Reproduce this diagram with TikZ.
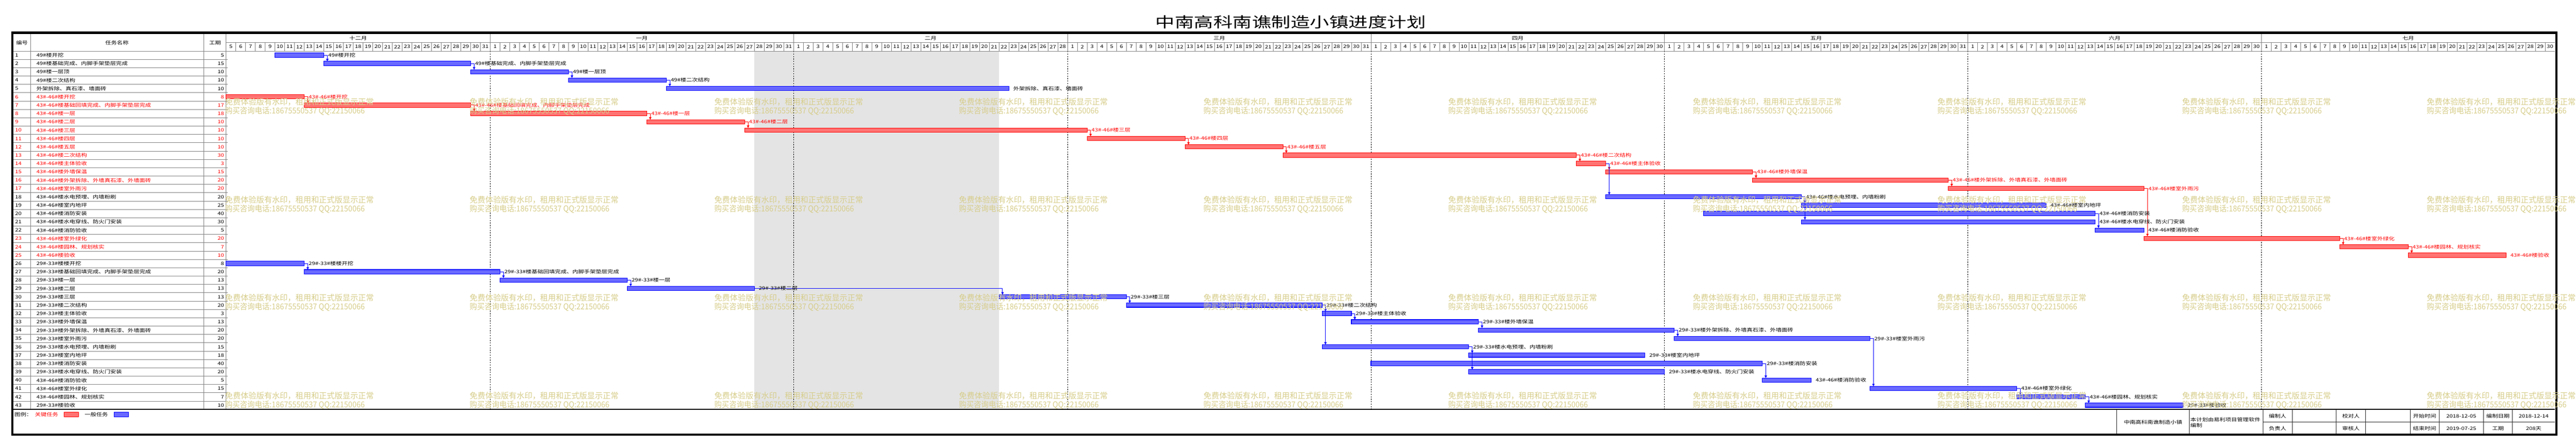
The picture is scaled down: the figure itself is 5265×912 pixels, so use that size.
\documentclass[tikz,border=0pt]{standalone}
\usepackage{fontspec}
\setmainfont{Noto Sans CJK SC}[FakeStretch=1.24]
\newfontfamily\wmfont{Noto Sans CJK SC}[FakeStretch=0.97]
\newfontfamily\wmfontb{Noto Sans CJK SC}[FakeStretch=0.92]
\newfontfamily\ttlfont{Noto Sans CJK SC}[FakeStretch=1.34]
\usetikzlibrary{arrows.meta}
\definecolor{cK}{RGB}{0,0,255}
\definecolor{cR}{RGB}{255,0,0}
\definecolor{fK}{RGB}{105,105,255}
\definecolor{fR}{RGB}{255,115,115}
\definecolor{tK}{RGB}{0,0,0}
\definecolor{tR}{RGB}{255,0,0}
\definecolor{gridc}{RGB}{128,128,128}
\definecolor{wmc}{RGB}{215,205,138}
\definecolor{shadec}{RGB}{228,228,228}
\begin{document}
\begin{tikzpicture}[x=1pt,y=-1pt,
  every node/.style={inner sep=0pt,outer sep=0pt},
  txt/.style={font=\fontsize{9.6}{10}\selectfont},
  gline/.style={draw=gridc,line width=0.8pt},
  mline/.style={draw=black,line width=0.7pt,dash pattern=on 2.5pt off 2.5pt},
  barbox/.style={line width=1.1pt,anchor=north west,minimum height=8.8pt},
  lnk/.style={line width=0.9pt,-{Triangle[length=5pt,width=5pt]}},
  tbl/.style={draw=black!85,line width=0.8pt},
  wmtxt/.style={text=wmc,anchor=west}]
\useasboundingbox (0,0) rectangle (5265,912);
\fill[white] (0,0) rectangle (5265,912);
% holiday shading
\fill[shadec] (1542,104.3) rectangle (2042,836);
% month dashed lines
\foreach \dd in {27,58,86,117,147,178,208}
  \draw[mline] (462+20*\dd,104.3) -- (462+20*\dd,836);
% table grid
\foreach \rr in {1,...,42}
  \draw[gline] (27.7,104.3+\rr*17.02) -- (465,104.3+\rr*17.02);
\draw[gline] (62.5,69) -- (62.5,836);
\draw[gline] (416.5,69) -- (416.5,836);
\draw[gline] (462,69) -- (462,836);
\draw[gline] (27.7,104.3) -- (5222,104.3);
\draw[gline] (462,86.7) -- (5222,86.7);
\foreach \dd in {1,...,237}
  \draw[gline] (462+20*\dd,86.7) -- (462+20*\dd,104.3);
\foreach \dd in {27,58,86,117,147,178,208}
  \draw[gline] (462+20*\dd,69) -- (462+20*\dd,86.7);
% header
\node[txt] (hnum) at (45,87) {编号};
\node[txt] (hname) at (239,87) {任务名称};
\node[txt] (hdur) at (439.5,87) {工期};
\foreach \oo/\nn/\mm in {0/27/十二月,27/31/一月,58/28/二月,86/31/三月,117/30/四月,147/31/五月,178/30/六月,208/30/七月}
  \node[txt] (mon\oo) at (462+20*\oo+10*\nn,77.8) {\mm};
\foreach \oo/\ff/\ll in {0/5/31,27/1/31,58/1/28,86/1/31,117/1/30,147/1/31,178/1/30,208/1/30}{
  \foreach \kk in {\ff,...,\ll}
    \node[txt] (day\oo-\kk) at (462+20*\oo+20*\kk-20*\ff+10,95.5) {\kk};
}
% title
\node[font=\ttlfont\fontsize{29.5}{30}\selectfont] (title) at (2638,45) {中南高科南谯制造小镇进度计划};
% table rows and bars
\foreach \rr/\col/\name/\dur/\ss/\ee in {
 1/K/{49\#楼开挖}/5/5/10,
 2/K/{49\#楼基础完成、内脚手架垫层完成}/15/10/25,
 3/K/{49\#楼一层顶}/10/25/35,
 4/K/{49\#楼二次结构}/10/35/45,
 5/K/{外架拆除、真石漆、墙面砖}/10/45/80,
 6/R/{43\#-46\#楼开挖}/8/0/8,
 7/R/{43\#-46\#楼基础回填完成、内脚手架垫层完成}/17/8/25,
 8/R/{43\#-46\#楼一层}/18/25/43,
 9/R/{43\#-46\#楼二层}/10/43/53,
 10/R/{43\#-46\#楼三层}/10/53/88,
 11/R/{43\#-46\#楼四层}/10/88/98,
 12/R/{43\#-46\#楼五层}/10/98/108,
 13/R/{43\#-46\#楼二次结构}/30/108/138,
 14/R/{43\#-46\#楼主体验收}/3/138/141,
 15/R/{43\#-46\#楼外墙保温}/15/141/156,
 16/R/{43\#-46\#楼外架拆除、外墙真石漆、外墙面砖}/20/156/176,
 17/R/{43\#-46\#楼室外雨污}/20/176/196,
 18/K/{43\#-46\#楼水电预埋、内墙粉刷}/20/141/161,
 19/K/{43\#-46\#楼室内地坪}/25/161/186,
 20/K/{43\#-46\#楼消防安装}/40/151/191,
 21/K/{43\#-46\#楼水电穿线、防火门安装}/30/161/191,
 22/K/{43\#-46\#楼消防验收}/5/191/196,
 23/R/{43\#-46\#楼室外绿化}/20/196/216,
 24/R/{43\#-46\#楼园林、规划核实}/7/216/223,
 25/R/{43\#-46\#楼验收}/10/223/233,
 26/K/{29\#-33\#楼楼开挖}/8/0/8,
 27/K/{29\#-33\#楼基础回填完成、内脚手架垫层完成}/20/8/28,
 28/K/{29\#-33\#楼一层}/13/28/41,
 29/K/{29\#-33\#楼二层}/13/41/54,
 30/K/{29\#-33\#楼三层}/13/79/92,
 31/K/{29\#-33\#楼二次结构}/20/92/112,
 32/K/{29\#-33\#楼主体验收}/3/112/115,
 33/K/{29\#-33\#楼外墙保温}/13/115/128,
 34/K/{29\#-33\#楼外架拆除、外墙真石漆、外墙面砖}/20/128/148,
 35/K/{29\#-33\#楼室外雨污}/20/148/168,
 36/K/{29\#-33\#楼水电预埋、内墙粉刷}/15/112/127,
 37/K/{29\#-33\#楼室内地坪}/18/127/145,
 38/K/{29\#-33\#楼消防安装}/40/117/157,
 39/K/{29\#-33\#楼水电穿线、防火门安装}/20/127/147,
 40/K/{43\#-46\#楼消防验收}/5/157/162,
 41/K/{43\#-46\#楼室外绿化}/15/168/183,
 42/K/{43\#-46\#楼园林、规划核实}/7/183/190,
 43/K/{29\#-33\#楼验收}/10/190/200}{
  \pgfmathsetmacro\yc{104.3+(\rr-0.5)*17.02}
  \pgfmathsetmacro\yt{104.3+(\rr-1)*17.02+3.9}
  \pgfmathsetmacro\xs{462+20*\ss}
  \pgfmathsetmacro\ww{20*(\ee-\ss)}
  \node[txt,text=t\col,anchor=west] (num\rr) at (31,\yc) {\rr};
  \node[txt,text=t\col,anchor=west] (name\rr) at (74.5,\yc) {\name};
  \node[txt,text=t\col,anchor=east] (dur\rr) at (458,\yc) {\dur};
  \node[barbox,draw=c\col,fill=f\col,minimum width=\ww pt] (b\rr) at (\xs,\yt) {};
}
% links
\foreach \pa/\pb/\col in {1/2/K,2/3/K,3/4/K,4/5/K,
  6/7/R,7/8/R,8/9/R,9/10/R,10/11/R,11/12/R,12/13/R,13/14/R,14/15/R,14/18/K,15/16/R,16/17/R,17/23/R,
  18/19/K,18/21/K,20/22/K,23/24/R,24/25/R,
  26/27/K,27/28/K,28/29/K,29/30/K,30/31/K,31/32/K,31/36/K,32/33/K,33/34/K,34/35/K,35/41/K,
  36/37/K,36/39/K,38/40/K,41/42/K,42/43/K}
  \draw[lnk,draw=c\col] (b\pa.east) -| ([xshift=7pt]b\pb.north west);
% bar labels
\foreach \rr/\col/\name in {
 1/K/{49\#楼开挖},2/K/{49\#楼基础完成、内脚手架垫层完成},3/K/{49\#楼一层顶},4/K/{49\#楼二次结构},
 5/K/{外架拆除、真石漆、墙面砖},6/R/{43\#-46\#楼开挖},7/R/{43\#-46\#楼基础回填完成、内脚手架垫层完成},
 8/R/{43\#-46\#楼一层},9/R/{43\#-46\#楼二层},10/R/{43\#-46\#楼三层},11/R/{43\#-46\#楼四层},
 12/R/{43\#-46\#楼五层},13/R/{43\#-46\#楼二次结构},14/R/{43\#-46\#楼主体验收},15/R/{43\#-46\#楼外墙保温},
 16/R/{43\#-46\#楼外架拆除、外墙真石漆、外墙面砖},17/R/{43\#-46\#楼室外雨污},
 18/K/{43\#-46\#楼水电预埋、内墙粉刷},19/K/{43\#-46\#楼室内地坪},20/K/{43\#-46\#楼消防安装},
 21/K/{43\#-46\#楼水电穿线、防火门安装},22/K/{43\#-46\#楼消防验收},23/R/{43\#-46\#楼室外绿化},
 24/R/{43\#-46\#楼园林、规划核实},25/R/{43\#-46\#楼验收},26/K/{29\#-33\#楼楼开挖},
 27/K/{29\#-33\#楼基础回填完成、内脚手架垫层完成},28/K/{29\#-33\#楼一层},29/K/{29\#-33\#楼二层},
 30/K/{29\#-33\#楼三层},31/K/{29\#-33\#楼二次结构},32/K/{29\#-33\#楼主体验收},33/K/{29\#-33\#楼外墙保温},
 34/K/{29\#-33\#楼外架拆除、外墙真石漆、外墙面砖},35/K/{29\#-33\#楼室外雨污},
 36/K/{29\#-33\#楼水电预埋、内墙粉刷},37/K/{29\#-33\#楼室内地坪},38/K/{29\#-33\#楼消防安装},
 39/K/{29\#-33\#楼水电穿线、防火门安装},40/K/{43\#-46\#楼消防验收},41/K/{43\#-46\#楼室外绿化},
 42/K/{43\#-46\#楼园林、规划核实},43/K/{29\#-33\#楼验收}}
  \node[txt,text=t\col,anchor=west] (l\rr) at ([xshift=9pt]b\rr.east) {\name};
% bottom line of chart
\draw[black,line width=1.3pt] (27.7,836) -- (5222,836);
% legend
\node[txt,anchor=west] (leg) at (30,847) {图例：};
\node[txt,anchor=west,text=tR] (legR) at (71.4,847) {关键任务};
\node[draw=cR,fill=fR,line width=1pt,anchor=north west,minimum width=30pt,minimum height=9.4pt] (legRb) at (131,842.3) {};
\node[txt,anchor=west] (legK) at (173,847) {一般任务};
\node[draw=cK,fill=fK,line width=1pt,anchor=north west,minimum width=30pt,minimum height=9.4pt] (legKb) at (233,842.3) {};
% title block
\foreach \xx in {4326,4475,4625,4685,4775,4835,4926,4985,5076,5135}
  \draw[tbl] (\xx,836) -- (\xx,886);
\draw[tbl] (4625,862) -- (5222,862);
\node[txt] (tb1) at (4400.5,862) {中南高科南谯制造小镇};
\node[txt,anchor=west] (tb2a) at (4477,856.7) {本计划由易利项目管理软件};
\node[txt,anchor=west] (tb2b) at (4477,868.3) {编制};
\foreach \xx/\ta/\tb in {4655/编制人/负责人,4805/校对人/审核人,4955.5/开始时间/结束时间,5030.5/2018-12-05/2019-07-25,5105.5/编制日期/工期,5178.5/2018-12-14/208天}{
  \node[txt] (tbu\xx) at (\xx,849.5) {\ta};
  \node[txt] (tbd\xx) at (\xx,875.5) {\tb};
}
% outer frame
\draw[black,line width=4.6pt] (25.4,66.7) rectangle (5224.6,887.9);
% watermark
\foreach \ii in {0,...,9}{
  \foreach \jj in {0,...,3}{
    \node[wmtxt,font=\wmfont\fontsize{16.5}{17}\selectfont] (wa\ii-\jj) at (460+500*\ii,208+200*\jj) {免费体验版有水印，租用和正式版显示正常};
    \node[wmtxt,font=\wmfontb\fontsize{16.5}{17}\selectfont] (wb\ii-\jj) at (460+500*\ii,227+200*\jj) {购买咨询电话:18675550537 QQ:22150066};
  }
}
\end{tikzpicture}
\end{document}
